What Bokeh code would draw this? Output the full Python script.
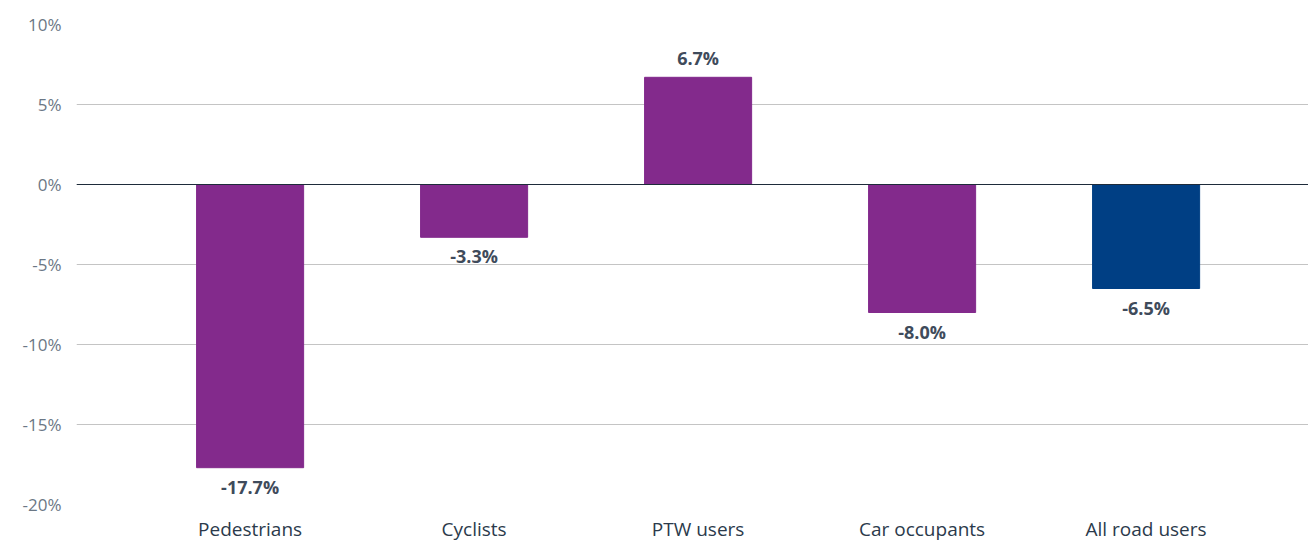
from bokeh.plotting import figure
from bokeh.models import ColumnDataSource, Range1d, FixedTicker, Span
from bokeh.core.properties import value
from bokeh.embed import file_html
from bokeh.resources import INLINE

categories = ["Pedestrians", "Cyclists", "PTW users", "Car occupants", "All road users"]
changes = [-17.7, -3.3, 6.7, -8.0, -6.5]
colors = ["#832A8C", "#832A8C", "#832A8C", "#832A8C", "#003F84"]
y_ticks = [-20, -15, -10, -5, 0, 5, 10]

xs = list(range(len(categories)))
labels = [f"{v:.1f}%" for v in changes]
offsets = [-19 if v >= 0 else 19 for v in changes]

src = ColumnDataSource(dict(x=xs, top=changes, color=colors, label=labels, yoff=offsets))

p = figure(width=1308, height=544, output_backend="svg", toolbar_location=None,
           x_range=Range1d(-0.775, 4.725), y_range=Range1d(-20, 10))
p.min_border_left = 76
p.min_border_right = 0
p.min_border_top = 24
p.min_border_bottom = 0
p.outline_line_color = None
p.background_fill_color = "white"
p.border_fill_color = "white"

p.vbar(x="x", top="top", bottom=0, width=0.478, color="color", source=src)

p.text(x="x", y="top", text="label", y_offset="yoff", source=src,
       text_align="center", text_baseline="middle",
       text_font=value("Open Sans"), text_font_style="bold",
       text_font_size="18px", text_color="#3F4B5B")

zero = Span(location=0, dimension="width", line_color="#1E2B3A", line_width=1.2)
p.add_layout(zero)

p.xgrid.grid_line_color = None
p.ygrid.grid_line_color = "#C4C4C4"
p.ygrid.grid_line_width = 1

p.yaxis.ticker = FixedTicker(ticks=y_ticks)
p.yaxis.major_label_overrides = {t: f"{t}%" for t in y_ticks}
p.yaxis.axis_line_color = None
p.yaxis.major_tick_line_color = None
p.yaxis.minor_tick_line_color = None
p.yaxis.major_tick_out = 0
p.yaxis.major_tick_in = 0
p.yaxis.minor_tick_out = 0
p.yaxis.major_label_text_font = "Open Sans"
p.yaxis.major_label_text_font_size = "17px"
p.yaxis.major_label_text_color = "#6B7785"
p.yaxis.major_label_standoff = 15

p.xaxis.ticker = FixedTicker(ticks=xs)
p.xaxis.major_label_overrides = {i: c for i, c in enumerate(categories)}
p.xaxis.axis_line_color = None
p.xaxis.major_tick_line_color = None
p.xaxis.minor_tick_line_color = None
p.xaxis.major_tick_out = 0
p.xaxis.major_tick_in = 0
p.xaxis.minor_tick_out = 0
p.xaxis.major_label_text_font = "Open Sans"
p.xaxis.major_label_text_font_size = "19px"
p.xaxis.major_label_text_color = "#2B3A4B"
p.xaxis.major_label_standoff = 11

open("out.html", "w").write(file_html(p, INLINE))
